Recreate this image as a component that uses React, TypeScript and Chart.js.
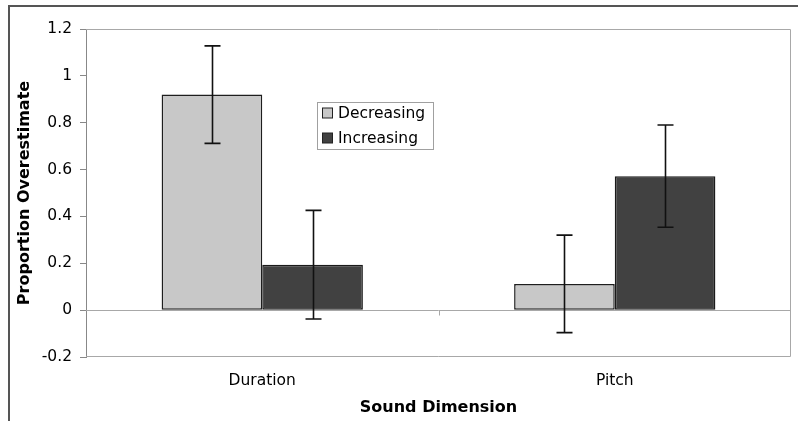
import { useEffect, useRef } from "react";
import { Chart, registerables } from "chart.js";

Chart.register(...registerables);

const categories = ["Duration", "Pitch"];
const seriesLabels = ["Decreasing", "Increasing"];
const decreasingValues = [0.92, 0.112];
const increasingValues = [0.194, 0.572];
const decreasingErrors = [0.208, 0.208];
const increasingErrors = [0.232, 0.218];
const yTickValues = [-0.2, 0, 0.2, 0.4, 0.6, 0.8, 1, 1.2];
const yTitle = "Proportion Overestimate";
const xTitle = "Sound Dimension";

const FONT = "'DejaVu Sans', Verdana, sans-serif";

const frameAndErrorPlugin = {
  id: "frameAndError",
  beforeDatasetsDraw(chart: any) {
    const { ctx, chartArea } = chart;
    const y = chart.scales.y;
    const x = chart.scales.x;
    ctx.save();
    ctx.strokeStyle = "#a8a8a8";
    ctx.lineWidth = 1;
    ctx.beginPath();
    ctx.moveTo(chartArea.left, chartArea.top + 0.5);
    ctx.lineTo(chartArea.right - 0.5, chartArea.top + 0.5);
    ctx.lineTo(chartArea.right - 0.5, chartArea.bottom - 0.5);
    ctx.lineTo(chartArea.left, chartArea.bottom - 0.5);
    ctx.stroke();
    const y0 = Math.round(y.getPixelForValue(0)) + 0.5;
    ctx.beginPath();
    ctx.moveTo(chartArea.left, y0);
    ctx.lineTo(chartArea.right, y0);
    ctx.stroke();
    for (let i = 1; i < categories.length; i++) {
      const xb = Math.round((x.getPixelForValue(i - 1) + x.getPixelForValue(i)) / 2) + 0.5;
      ctx.beginPath();
      ctx.moveTo(xb, y0);
      ctx.lineTo(xb, y0 + 5);
      ctx.stroke();
    }
    ctx.restore();
  },
  afterDatasetsDraw(chart: any) {
    const { ctx } = chart;
    const y = chart.scales.y;
    const errs = [decreasingErrors, increasingErrors];
    ctx.save();
    ctx.strokeStyle = "#111111";
    ctx.lineWidth = 1.6;
    chart.data.datasets.forEach((ds: any, i: number) => {
      const meta = chart.getDatasetMeta(i);
      meta.data.forEach((bar: any, j: number) => {
        const v = ds.data[j];
        const e = errs[i][j];
        const cx = Math.round(bar.x) + 0.5;
        const yt = y.getPixelForValue(v + e);
        const yb = y.getPixelForValue(v - e);
        ctx.beginPath();
        ctx.moveTo(cx, yt);
        ctx.lineTo(cx, yb);
        ctx.moveTo(cx - 8, yt);
        ctx.lineTo(cx + 8, yt);
        ctx.moveTo(cx - 8, yb);
        ctx.lineTo(cx + 8, yb);
        ctx.stroke();
      });
    });
    ctx.restore();
  },
  afterDraw(chart: any) {
    const { ctx } = chart;
    const bx = 317.5, by = 102.5, bw = 116, bh = 47;
    ctx.save();
    ctx.fillStyle = "#ffffff";
    ctx.fillRect(bx, by, bw, bh);
    ctx.strokeStyle = "#a0a0a0";
    ctx.lineWidth = 1;
    ctx.strokeRect(bx, by, bw, bh);
    ctx.font = `15.5px ${FONT}`;
    ctx.textBaseline = "middle";
    ctx.textAlign = "left";
    chart.data.datasets.forEach((ds: any, i: number) => {
      const cy = 113.5 + i * 25;
      ctx.fillStyle = ds.backgroundColor;
      ctx.fillRect(322.5, cy - 5.5, 10, 10);
      ctx.strokeStyle = "#222222";
      ctx.strokeRect(322.5, cy - 5.5, 10, 10);
      ctx.fillStyle = "#000000";
      ctx.fillText(ds.label, 338, cy);
    });
    ctx.restore();
  },
};

export default function App() {
  const canvasRef = useRef<HTMLCanvasElement | null>(null);

  useEffect(() => {
    const canvas = canvasRef.current;
    if (!canvas) return;
    const chart = new Chart(canvas, {
      type: "bar",
      data: {
        labels: categories,
        datasets: [
          {
            label: seriesLabels[0],
            data: decreasingValues,
            backgroundColor: "#c8c8c8",
            borderColor: "#1e1e1e",
            borderWidth: 1.5,
            borderSkipped: false,
          },
          {
            label: seriesLabels[1],
            data: increasingValues,
            backgroundColor: "#414141",
            borderColor: "#1a1a1a",
            borderWidth: 1.5,
            borderSkipped: false,
          },
        ],
      },
      options: {
        responsive: false,
        animation: false,
        devicePixelRatio: 1,
        layout: { padding: { top: 29, right: 7, left: 0, bottom: 0 } },
        datasets: {
          bar: { categoryPercentage: 0.571, barPercentage: 1 },
        },
        plugins: {
          legend: { display: false },
          tooltip: { enabled: false },
        },
        scales: {
          x: {
            grid: { display: false, drawTicks: false },
            border: { display: false },
            ticks: {
              padding: 15,
              color: "#000000",
              font: { family: FONT, size: 15.5 },
            },
            title: {
              display: true,
              text: xTitle,
              color: "#000000",
              font: { family: FONT, size: 16, weight: "bold" },
              padding: { top: 0, bottom: 4 },
            },
            afterFit: (axis: any) => {
              axis.height = 64;
            },
          },
          y: {
            min: -0.2,
            max: 1.2,
            afterBuildTicks: (axis: any) => {
              axis.ticks = yTickValues.map((v) => ({ value: v }));
            },
            grid: {
              display: true,
              drawOnChartArea: false,
              drawTicks: true,
              tickLength: 6,
              tickColor: "#888888",
            },
            border: { display: true, color: "#888888", width: 1 },
            ticks: {
              padding: 8,
              color: "#000000",
              font: { family: FONT, size: 15.5 },
              callback: (v: any) => String(Math.round(Number(v) * 10) / 10),
            },
            title: {
              display: true,
              text: yTitle,
              color: "#000000",
              font: { family: FONT, size: 16, weight: "bold" },
              padding: { top: 15, bottom: 0 },
            },
            afterFit: (axis: any) => {
              axis.width = 86;
            },
          },
        },
      },
      plugins: [frameAndErrorPlugin],
    });
    return () => chart.destroy();
  }, []);

  return (
    <div style={{ position: "fixed", left: 0, top: 0, width: 798, height: 421, overflow: "hidden", background: "#ffffff" }}>
      <canvas ref={canvasRef} width={798} height={421} style={{ position: "absolute", left: 0, top: 0, width: 798, height: 421 }} />
      <div
        style={{
          position: "absolute",
          left: 8,
          top: 5,
          width: 1000,
          height: 1000,
          borderTop: "2px solid #555555",
          borderLeft: "2px solid #555555",
          pointerEvents: "none",
        }}
      />
    </div>
  );
}
